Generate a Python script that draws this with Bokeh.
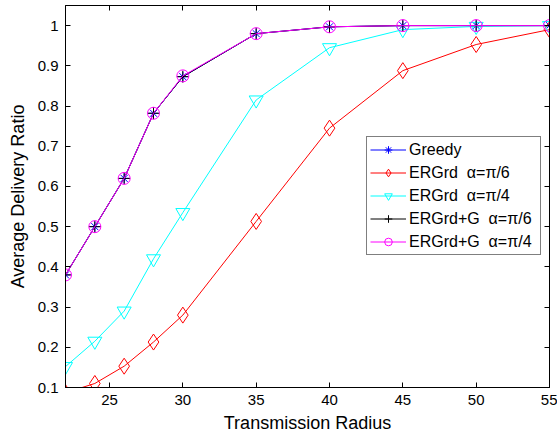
from bokeh.plotting import figure
from bokeh.models import LinearAxis, FixedTicker, Legend, LegendItem, Range1d, CustomLabelingPolicy
from bokeh.embed import file_html
from bokeh.resources import INLINE

radius = [22, 24, 26, 28, 30, 35, 40, 45, 50, 55]
greedy = [0.38, 0.50, 0.62, 0.782, 0.873, 0.98, 0.997, 1.0, 1.0, 1.0]
ergrd_pi6 = [0.087, 0.11, 0.153, 0.213, 0.28, 0.513, 0.745, 0.888, 0.953, 0.99]
ergrd_pi4 = [0.152, 0.215, 0.29, 0.42, 0.535, 0.815, 0.945, 0.99, 0.998, 1.0]
ergrdg_pi6 = [0.38, 0.50, 0.62, 0.782, 0.873, 0.98, 0.997, 1.0, 1.0, 1.0]
ergrdg_pi4 = [0.38, 0.50, 0.62, 0.782, 0.875, 0.98, 0.997, 1.0, 1.0, 1.0]
x_ticks = [25, 30, 35, 40, 45, 50, 55]
y_ticks = [0.1, 0.2, 0.3, 0.4, 0.5, 0.6, 0.7, 0.8, 0.9, 1.0]
y_tick_labels = ["0.1", "0.2", "0.3", "0.4", "0.5", "0.6", "0.7", "0.8", "0.9", "1"]

FONT = "Liberation Sans"

p = figure(width=557, height=442, output_backend="svg", toolbar_location=None,
           x_range=Range1d(22, 55), y_range=Range1d(0.1, 1.05),
           min_border_left=65, min_border_right=8, min_border_top=5, min_border_bottom=55)
p.xgrid.visible = False
p.ygrid.visible = False
p.outline_line_color = "black"
p.outline_line_width = 1

for ax in [p.xaxis[0], p.yaxis[0]]:
    ax.major_tick_in = 5
    ax.major_tick_out = 0
    ax.minor_tick_in = 0
    ax.minor_tick_out = 0
    ax.major_label_text_font = FONT
    ax.major_label_text_font_size = "15px"
    ax.axis_label_text_font = FONT
    ax.axis_label_text_font_size = "18px"
    ax.axis_label_text_font_style = "normal"
    ax.axis_label_text_color = "black"
    ax.axis_line_color = "black"
    ax.major_tick_line_color = "black"
    ax.major_label_text_color = "black"
p.xaxis.ticker = FixedTicker(ticks=x_ticks)
p.yaxis.ticker = FixedTicker(ticks=y_ticks)
p.yaxis.major_label_overrides = {t: l for t, l in zip(y_ticks, y_tick_labels)}
p.xaxis.axis_label = "Transmission Radius"
p.yaxis.axis_label = "Average Delivery Ratio"
p.xaxis.major_label_standoff = 7
p.yaxis.major_label_standoff = 7
p.xaxis.axis_label_standoff = 5
p.yaxis.axis_label_standoff = 7

no_labels = CustomLabelingPolicy(code="return new Set()")
top = LinearAxis(ticker=FixedTicker(ticks=x_ticks), major_tick_in=5, major_tick_out=0,
                 minor_tick_in=0, minor_tick_out=0, major_label_policy=no_labels,
                 major_label_text_font_size="0px",
                 major_label_standoff=0, axis_line_color="black", major_tick_line_color="black")
right = LinearAxis(ticker=FixedTicker(ticks=y_ticks), major_tick_in=5, major_tick_out=0,
                   minor_tick_in=0, minor_tick_out=0, major_label_policy=no_labels,
                   major_label_text_font_size="0px",
                   major_label_standoff=0, axis_line_color="black", major_tick_line_color="black")
p.add_layout(top, "above")
p.add_layout(right, "right")

items = []
l1 = p.line(radius, greedy, line_color="blue", line_width=1)
s1 = p.scatter(radius, greedy, marker="asterisk", size=10, line_color="blue", line_width=1)
items.append(LegendItem(label="Greedy", renderers=[l1, s1]))
l2 = p.line(radius, ergrd_pi6, line_color="red", line_width=1)
s2 = p.scatter(radius, ergrd_pi6, marker="diamond", size=16, line_color="red", fill_color=None, line_width=1)
items.append(LegendItem(label="ERGrd  α=π/6", renderers=[l2, s2]))
l3 = p.line(radius, ergrd_pi4, line_color="cyan", line_width=1)
s3 = p.scatter(radius, ergrd_pi4, marker="inverted_triangle", size=14, line_color="cyan", fill_color=None, line_width=1)
items.append(LegendItem(label="ERGrd  α=π/4", renderers=[l3, s3]))
l4 = p.line(radius, ergrdg_pi6, line_color="black", line_width=1)
s4 = p.scatter(radius, ergrdg_pi6, marker="cross", size=12, line_color="black", line_width=1)
items.append(LegendItem(label="ERGrd+G  α=π/6", renderers=[l4, s4]))
l5 = p.line(radius, ergrdg_pi4, line_color="magenta", line_width=1)
s5 = p.scatter(radius, ergrdg_pi4, marker="circle", size=12, line_color="magenta", fill_color=None, line_width=1)
items.append(LegendItem(label="ERGrd+G  α=π/4", renderers=[l5, s5]))

legend = Legend(items=items, location=(301, 132), label_text_font=FONT, label_text_font_size="16px",
                label_text_color="black",
                glyph_width=36, glyph_height=19, label_height=19, label_width=128,
                spacing=4, padding=3, margin=0,
                label_standoff=3, border_line_color="black", border_line_width=1,
                background_fill_alpha=1)
p.add_layout(legend, "center")

open("out.html", "w").write(file_html(p, INLINE))
